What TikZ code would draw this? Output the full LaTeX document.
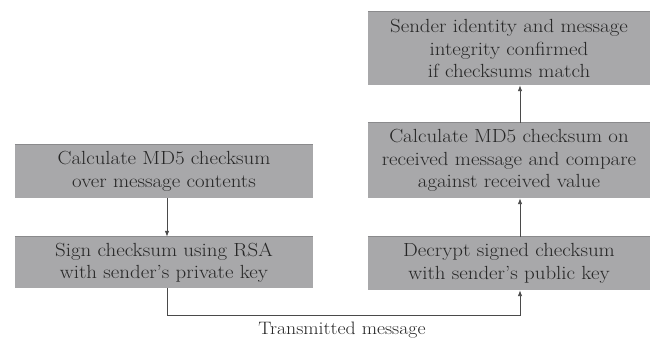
\documentclass[tikz,border=0pt]{standalone}
\usepackage{fontspec}
\setmainfont{Latin Modern Roman}[FakeStretch=1.1]
\usetikzlibrary{arrows.meta,calc}
\definecolor{boxfill}{HTML}{A8A8AA}
\definecolor{boxedge}{HTML}{8A8A8C}
\definecolor{inkgray}{HTML}{262626}
\definecolor{wire}{HTML}{4A4A4A}
\tikzset{
  stepbox/.style={fill=boxfill, inner sep=0pt, align=center, text=inkgray,
    font=\fontsize{19}{22.5}\selectfont, minimum width=#1},
  stepbox/.default=298pt,
  link/.style={draw=wire, line width=0.9pt, -{Latex[length=6pt,width=4.5pt]}},
}
\begin{document}
\begin{tikzpicture}[x=1pt,y=1pt]
  \useasboundingbox (0,0) rectangle (656,340);
  % sender side
  \node[stepbox, minimum height=53pt] (l1) at (164,168.5)
    {Calculate MD5 checksum\\over message contents};
  \node[stepbox, minimum height=51pt] (l2) at (164,77.5)
    {Sign checksum using RSA\\with sender's private key};
  % receiver side
  \node[stepbox=282pt, minimum height=73pt] (r1) at (509,291.5)
    {Sender identity and message\\integrity confirmed\\if checksums match};
  \node[stepbox=282pt, minimum height=75pt] (r2) at (509,179.5)
    {Calculate MD5 checksum on\\received message and compare\\against received value};
  \node[stepbox=282pt, minimum height=53pt] (r3) at (509,76.5)
    {Decrypt signed checksum\\with sender's public key};
  % darker top edges
  \foreach \b in {l1,l2,r1,r2,r3}
    \draw[boxedge, line width=1.2pt] (\b.north west) -- (\b.north east);
  % connector x positions
  \coordinate (xl) at (167,0);
  \coordinate (xr) at (520,0);
  \coordinate (bend) at (167,25);
  \draw[link] (l1.south -| xl) -- (l2.north -| xl);
  \draw[link] (l2.south -| xl) -- (bend) -| (r3.south -| xr);
  \draw[link] (r3.north -| xr) -- (r2.south -| xr);
  \draw[link] (r2.north -| xr) -- (r1.south -| xr);
  \node[text=inkgray, font=\fontsize{18}{20}\selectfont, inner sep=0pt] (tm) at (342,10) {Transmitted message};
\end{tikzpicture}
\end{document}
